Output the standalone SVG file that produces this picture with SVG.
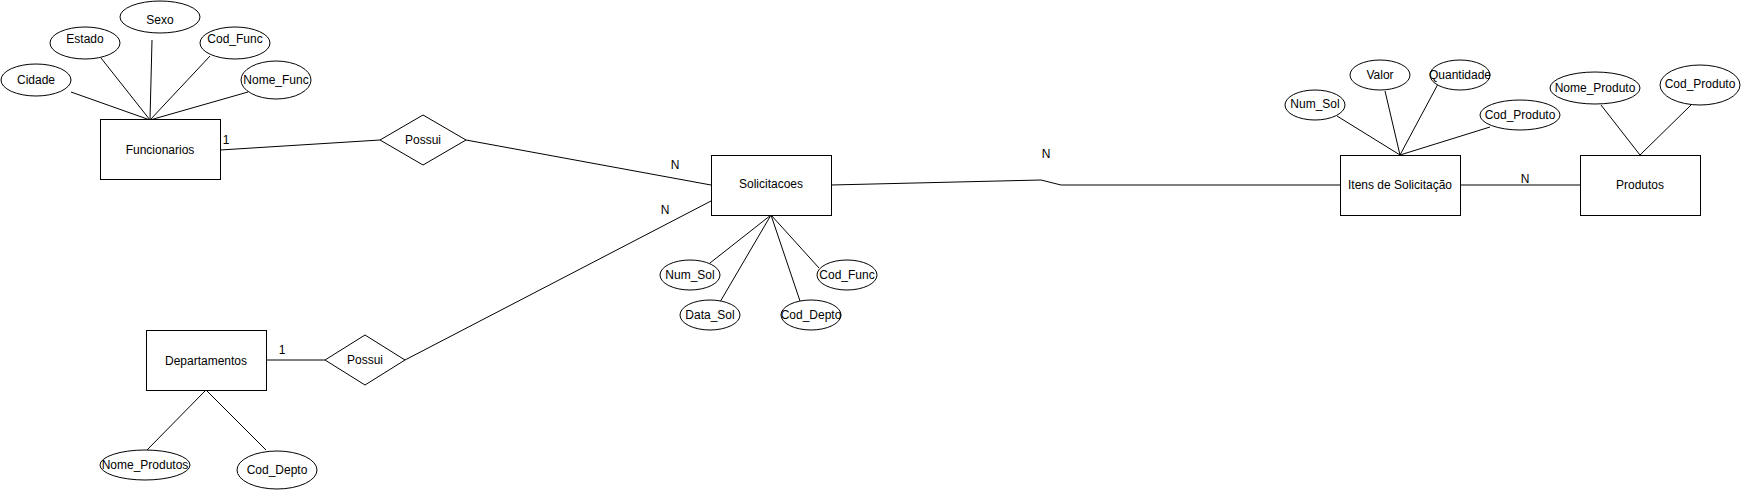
<svg xmlns="http://www.w3.org/2000/svg" width="1741" height="491" viewBox="0 0 1741 491">
<style>
.s{fill:#fff;stroke:#000;stroke-width:1}
.l{fill:none;stroke:#000;stroke-width:1}
text{font-family:"Liberation Sans",Arial,sans-serif;font-size:12px;fill:#000;text-anchor:middle;dominant-baseline:central}
</style>
<rect width="1741" height="491" fill="#fff"/>
<g id="connectors" class="l">
<path d="M71,92 L150,120 M101,58 L150,120 M152,40 L150,120 M210,56 L150,120 M248,92 L150,120"/>
<path d="M220,150 L380,140"/>
<path d="M466,140 L711,185"/>
<path d="M266,360 L325,360"/>
<path d="M405,360 L711,201"/>
<path d="M831,185 L1041,180 L1061,185 L1340,185"/>
<path d="M1460,185 L1580,185"/>
<path d="M710,263 L771,215 M720,302 L771,215 M800,301 L771,215 M819,268 L771,215"/>
<path d="M147,450 L206,390 L266,450"/>
<path d="M1337,116 L1400,155 M1385,91 L1400,155 M1438,84 L1400,155 M1490,127 L1400,155"/>
<path d="M1601,105 L1640,155 L1691,105"/>
</g>
<g id="labels">
<text x="226" y="140">1</text>
<text x="282" y="350">1</text>
<text x="675" y="165">N</text>
<text x="665" y="210">N</text>
<text x="1046" y="154">N</text>
<text x="1525" y="179">N</text>
</g>
<g id="funcionarios"><rect class="s" x="100.5" y="119.5" width="120" height="60"/><text x="160" y="150">Funcionarios</text></g>
<g id="attr-cidade"><ellipse class="s" cx="36" cy="80" rx="35" ry="16"/><text x="36" y="80">Cidade</text></g>
<g id="attr-estado"><ellipse class="s" cx="85" cy="43" rx="35" ry="16"/><text x="85" y="39">Estado</text></g>
<g id="attr-sexo"><ellipse class="s" cx="160" cy="17" rx="40" ry="16"/><text x="160" y="20">Sexo</text></g>
<g id="attr-codfunc1"><ellipse class="s" cx="235" cy="43" rx="35" ry="16"/><text x="235" y="39">Cod_Func</text></g>
<g id="attr-nomefunc"><ellipse class="s" cx="276" cy="80" rx="35" ry="19"/><text x="276" y="80">Nome_Func</text></g>
<g id="possui1"><path class="s" d="M380,140 L423,115 L466,140 L423,165 Z"/><text x="423" y="140">Possui</text></g>
<g id="departamentos"><rect class="s" x="146.5" y="330.5" width="120" height="60"/><text x="206" y="361">Departamentos</text></g>
<g id="possui2"><path class="s" d="M325,360 L365,335 L405,360 L365,385 Z"/><text x="365" y="360">Possui</text></g>
<g id="attr-nomeprodutos"><ellipse class="s" cx="145" cy="465" rx="45" ry="15"/><text x="145" y="465">Nome_Produtos</text></g>
<g id="attr-coddepto1"><ellipse class="s" cx="277" cy="470" rx="40" ry="19"/><text x="277" y="470">Cod_Depto</text></g>
<g id="solicitacoes"><rect class="s" x="711.5" y="155.5" width="120" height="60"/><text x="771" y="184">Solicitacoes</text></g>
<g id="attr-numsol1"><ellipse class="s" cx="690" cy="275" rx="30" ry="15"/><text x="690" y="275">Num_Sol</text></g>
<g id="attr-datasol"><ellipse class="s" cx="710" cy="315" rx="30" ry="15"/><text x="710" y="315">Data_Sol</text></g>
<g id="attr-coddepto2"><ellipse class="s" cx="811" cy="315" rx="30" ry="15"/><text x="811" y="315">Cod_Depto</text></g>
<g id="attr-codfunc2"><ellipse class="s" cx="847" cy="275" rx="30" ry="15"/><text x="847" y="275">Cod_Func</text></g>
<g id="itens"><rect class="s" x="1340.5" y="155.5" width="120" height="60"/><text x="1400" y="185">Itens de Solicitação</text></g>
<g id="attr-numsol2"><ellipse class="s" cx="1315" cy="105" rx="30" ry="15"/><text x="1315" y="104">Num_Sol</text></g>
<g id="attr-valor"><ellipse class="s" cx="1380" cy="75" rx="30" ry="15"/><text x="1380" y="75">Valor</text></g>
<g id="attr-quantidade"><ellipse class="s" cx="1460" cy="75" rx="30" ry="15"/><text x="1460" y="75">Quantidade</text></g>
<g id="attr-codproduto1"><ellipse class="s" cx="1520" cy="115" rx="40" ry="15"/><text x="1520" y="115">Cod_Produto</text></g>
<g id="produtos"><rect class="s" x="1580.5" y="155.5" width="120" height="60"/><text x="1640" y="185">Produtos</text></g>
<g id="attr-nomeproduto"><ellipse class="s" cx="1595" cy="88" rx="45" ry="16"/><text x="1595" y="88">Nome_Produto</text></g>
<g id="attr-codproduto2"><ellipse class="s" cx="1700" cy="85" rx="40" ry="20"/><text x="1700" y="84">Cod_Produto</text></g>
</svg>
